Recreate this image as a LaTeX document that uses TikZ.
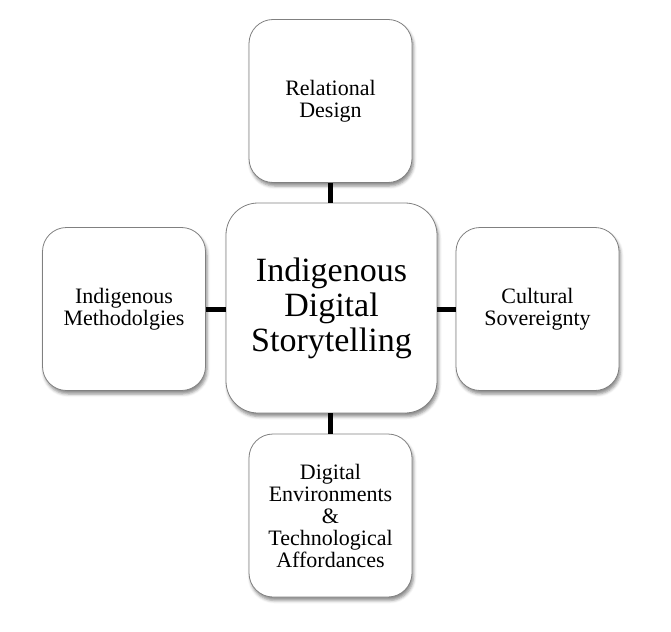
\documentclass[tikz,border=0pt]{standalone}
\usepackage{fontspec}
\setmainfont{Liberation Serif}
\usepackage{tikz}
\usetikzlibrary{shadows.blur}

\begin{document}
\begin{tikzpicture}[x=1pt, y=-1pt,
  box/.style={draw=black!50, line width=0.8pt, fill=white, rounded corners=24pt,
    align=center, inner sep=0pt, minimum width=163pt, minimum height=163pt,
    font=\fontsize{22}{22}\selectfont,
    blur shadow={shadow xshift=1.5pt, shadow yshift=-3.5pt, shadow blur radius=3pt,
      shadow opacity=45}},
  hubbox/.style={box, rounded corners=32pt, minimum width=211pt, minimum height=210pt,
    font=\fontsize{34}{35}\selectfont},
  link/.style={line width=5pt}]
\useasboundingbox (0,0) rectangle (671,631);

\node[box] (design) at (330.5,101) {Relational\\Design};
\node[hubbox] (hub) at (331.5,308) {Indigenous\\Digital\\Storytelling};
\node[box] (method) at (124,309) {Indigenous\\Methodolgies};
\node[box] (sovereign) at (537.5,309) {Cultural\\Sovereignty};
\node[box] (environ) at (330.5,515.5) {Digital\\Environments\\\&\\Technological\\Affordances};

\draw[link] (design) -- (design |- hub.north);
\draw[link] (method) -- (method -| hub.west);
\draw[link] (sovereign) -- (sovereign -| hub.east);
\draw[link] (environ) -- (environ |- hub.south);
\end{tikzpicture}
\end{document}
